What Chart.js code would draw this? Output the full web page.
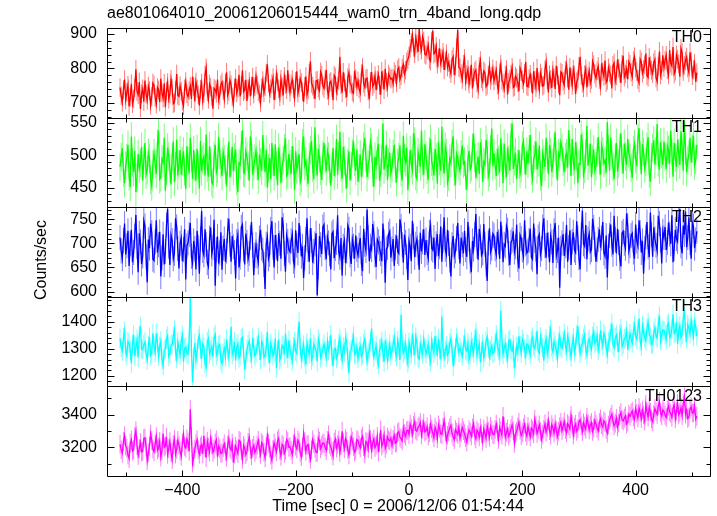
<!DOCTYPE html>
<html>
<head>
<meta charset="utf-8">
<script src="https://cdn.jsdelivr.net/npm/chart.js@4.4.0/dist/chart.umd.min.js"></script>
<style>
html, body { margin: 0; padding: 0; background: #fff; }
</style>
</head>
<body>
<canvas id="lc" width="717" height="516"></canvas>
<script>
const title = 'ae801064010_20061206015444_wam0_trn_4band_long.qdp';
const xLabel = 'Time [sec] 0 = 2006/12/06 01:54:44';
const yLabel = 'Counts/sec';
const bandNames = ['TH0', 'TH1', 'TH2', 'TH3', 'TH0123'];
const bandColors = ['#ff0000', '#00ff00', '#0000ff', '#00ffff', '#ff00ff'];
const errColors = ['#ff7a7a', '#7aff7a', '#7a7aff', '#7affff', '#ff7aff'];

// time bins: t = tStart + i * tStep  (one row = 60 s)
const tStart = -510;
const tStep = 2;

// typical 1-sigma error of a bin, per band (counts/sec)
const bandErr = [27, 22, 26, 36, 57];

const th0 = [
  745,721,702,739,768,709,731,752,690,717,756,698,712,744,798,733,724,761,683,727,741,704,765,726,708,749,736,693,719,758,
  752,716,697,745,738,703,771,729,714,757,688,735,759,711,726,769,743,698,701,737,784,722,719,750,734,705,692,741,762,727,
  718,736,749,712,776,747,705,761,741,724,693,740,758,707,727,781,802,732,711,755,746,719,684,743,739,728,768,709,722,753,
  761,737,712,758,789,723,734,766,753,718,698,744,771,729,742,782,719,751,795,733,738,767,706,741,762,720,749,775,726,747,
  778,752,733,726,701,744,765,730,748,787,812,758,727,742,756,773,709,735,783,761,741,718,769,746,722,777,754,739,795,757,
  731,755,768,740,716,763,792,729,744,771,759,733,703,748,777,724,738,786,821,757,749,739,712,764,766,743,735,790,781,750,
  742,768,796,737,721,759,763,745,708,780,775,734,749,766,834,753,730,789,761,741,717,774,788,756,752,732,728,793,771,747,
  764,741,729,785,803,757,746,770,772,735,711,762,790,748,755,779,737,766,782,751,724,792,768,739,799,760,745,784,776,769,
  772,756,791,783,758,797,803,768,779,801,812,784,795,819,826,837,858,874,897,861,842,889,871,848,916,867,853,892,879,841,
  838,853,867,826,821,879,909,842,845,864,812,831,858,815,829,847,796,822,843,804,817,798,785,826,834,781,806,859,912,803,
  801,785,768,812,829,763,782,797,755,779,811,742,774,790,796,758,739,806,823,770,761,793,788,747,752,781,807,766,778,799,
  764,779,795,752,737,788,812,766,758,741,781,797,725,760,769,784,803,745,748,778,772,759,734,801,791,767,756,785,819,749,
  747,771,783,758,728,792,766,745,801,763,739,787,775,749,752,796,818,767,731,782,768,744,795,773,741,808,779,754,723,790,
  786,763,752,795,811,772,739,803,774,751,798,781,726,762,769,806,834,779,757,744,782,799,745,776,793,757,768,821,811,784,
  772,794,806,768,749,815,791,777,823,759,765,802,788,781,742,809,816,763,779,826,801,787,758,812,837,775,784,798,769,820,
  812,789,776,823,834,801,791,768,758,827,819,786,797,811,843,779,774,832,808,795,785,817,826,773,762,806,849,781,794,838,
  803,824,838,796,781,853,815,807,862,784,792,839,827,813,776,858,846,791,809,822,833,801,788,847,821,779,797,815,762,788
];

const th1 = [
  482,497,511,473,457,484,496,516,468,451,529,489,474,507,443,466,502,479,488,513,461,492,519,470,477,504,495,462,452,486,
  503,487,471,518,538,463,466,494,489,527,445,476,512,498,480,455,497,521,459,483,524,469,486,508,470,491,506,475,448,514,
  491,472,527,496,463,508,482,461,510,485,449,522,475,493,498,469,532,481,467,514,489,458,455,499,516,473,479,528,501,487,
  468,505,494,478,452,491,521,466,487,513,476,497,509,460,443,488,485,515,539,474,472,506,498,484,461,529,517,470,483,495,
  507,483,462,501,489,476,531,499,474,509,450,480,496,463,519,490,468,517,484,454,512,495,457,482,493,511,526,468,471,502,
  486,471,514,492,447,506,478,487,502,459,465,518,529,484,490,473,456,497,508,522,481,463,543,489,469,510,495,476,462,500,
  519,494,475,507,498,479,453,482,511,468,487,525,470,499,536,481,464,513,492,470,449,488,506,461,483,503,522,490,476,509,
  459,480,501,467,488,514,527,496,466,485,494,521,512,474,451,498,485,507,518,461,473,493,549,478,490,516,462,489,504,472,
  481,502,516,479,458,488,497,515,474,461,530,496,489,512,446,475,508,487,477,534,521,468,463,505,495,482,538,491,470,517,
  499,478,462,506,525,490,483,469,510,497,456,521,491,476,544,489,472,513,503,458,467,495,488,517,529,474,454,502,496,484,
  476,501,515,487,490,468,447,494,507,478,482,512,533,496,465,485,498,471,520,503,459,490,486,524,511,467,473,509,541,483,
  503,485,468,510,492,473,526,497,457,518,484,466,512,493,476,528,549,479,491,504,463,487,508,471,480,515,522,492,470,506,
  487,509,531,476,464,494,500,521,478,489,515,468,452,503,493,482,527,498,471,516,505,474,488,511,536,486,461,503,497,520,
  512,490,474,497,503,481,539,508,468,525,491,477,520,499,457,487,486,532,514,470,479,502,545,484,495,518,466,493,509,476,
  483,504,528,491,470,515,506,488,492,473,551,509,476,527,500,482,463,496,519,475,487,511,534,493,472,518,498,485,525,502,
  496,481,465,508,517,494,483,526,542,499,471,517,505,480,490,513,528,472,459,497,511,523,486,506,548,489,478,520,502,485,
  521,498,479,515,508,487,538,505,467,519,496,482,524,503,485,537,512,476,553,508,474,492,501,527,489,510,530,484,493,516
];

const th2 = [
  712,684,668,706,741,677,695,726,653,699,728,661,681,715,759,693,640,721,703,657,674,747,736,672,619,708,690,741,722,667,
  664,703,748,681,697,724,631,670,719,656,683,738,772,694,655,717,706,668,679,752,734,689,648,700,711,663,687,729,625,695,
  701,718,742,673,659,705,689,646,726,692,637,709,767,685,676,729,698,660,652,711,733,678,691,749,612,687,714,658,680,723,
  645,690,709,662,684,727,751,698,662,715,693,681,627,704,718,650,671,733,739,688,656,720,702,667,679,712,744,696,634,675,
  697,674,661,711,728,690,685,656,605,698,713,668,677,729,746,692,650,717,692,663,721,700,668,754,737,679,641,716,704,686,
  682,705,719,663,654,727,696,680,742,711,673,694,628,670,708,752,687,662,731,706,660,683,699,721,592,651,715,697,678,734,
  739,691,667,713,701,678,646,720,724,669,689,702,758,682,671,711,633,694,706,659,684,737,729,676,657,708,694,668,716,687,
  675,696,711,658,642,730,698,685,770,712,663,694,687,740,720,676,651,708,703,689,679,663,741,703,618,688,692,719,725,670,
  688,709,653,692,716,683,679,750,735,697,660,718,702,672,624,705,694,663,747,715,671,698,709,681,645,722,683,703,729,676,
  707,681,669,723,738,690,686,712,647,699,719,673,693,735,662,706,754,688,677,728,700,665,631,697,715,674,684,710,742,693,
  658,712,697,679,726,687,672,744,709,663,640,705,688,718,761,694,666,730,713,675,680,740,698,657,622,701,731,682,690,720,
  716,689,676,724,703,668,745,711,661,698,694,736,727,679,655,702,707,725,682,693,739,667,648,717,710,686,673,748,699,680,
  684,706,730,671,667,741,706,688,636,713,719,677,689,734,752,695,670,722,697,661,715,703,659,726,742,674,685,712,608,690,
  701,719,674,695,738,662,692,727,655,704,723,686,681,746,711,670,646,717,768,699,694,738,667,709,720,682,687,751,733,698,
  662,687,708,729,691,711,744,680,673,716,629,694,716,739,698,677,757,708,679,730,702,669,652,721,725,700,690,762,737,684,
  695,716,721,682,668,739,705,694,748,722,681,705,637,689,713,744,693,671,764,718,672,733,709,696,684,757,741,707,658,725,
  712,734,686,702,743,719,699,758,661,689,728,710,704,748,771,695,679,737,718,766,692,712,754,701,668,743,736,690,707,725
];

const th3 = [
  1338,1305,1292,1341,1364,1289,1275,1327,1319,1296,1247,1318,1351,1273,1306,1334,1268,1352,1382,1299,1297,1316,1325,1281,1259,1311,1343,1276,1284,1357,
  1311,1287,1356,1322,1273,1309,1329,1261,1238,1294,1301,1336,1347,1271,1282,1313,1316,1345,1369,1290,1264,1324,1298,1277,1331,1349,1252,1302,1306,1283,
  1279,1331,1488,1302,1176,1268,1322,1259,1286,1335,1349,1297,1263,1318,1307,1244,1231,1326,1338,1281,1294,1309,1271,1342,1353,1276,1289,1312,1316,1258,
  1245,1283,1302,1271,1334,1296,1268,1314,1381,1278,1291,1325,1257,1304,1318,1266,1276,1337,1342,1289,1223,1261,1297,1316,1329,1282,1263,1340,1305,1274,
  1284,1312,1341,1293,1259,1327,1316,1268,1275,1305,1363,1282,1248,1319,1302,1274,1287,1338,1228,1296,1334,1259,1271,1313,1309,1280,1356,1298,1266,1331,
  1298,1276,1255,1308,1327,1291,1283,1344,1401,1303,1262,1287,1314,1269,1241,1322,1296,1281,1339,1258,1273,1317,1305,1294,1252,1336,1321,1267,1279,1301,
  1317,1292,1268,1326,1294,1311,1352,1273,1236,1298,1301,1265,1277,1319,1338,1290,1259,1307,1288,1341,1325,1266,1211,1289,1296,1323,1347,1278,1283,1308,
  1264,1290,1309,1272,1281,1320,1336,1297,1253,1284,1298,1327,1375,1306,1270,1293,1312,1261,1242,1299,1305,1328,1286,1251,1331,1302,1258,1288,1317,1274,
  1293,1315,1342,1287,1271,1330,1308,1259,1426,1313,1284,1296,1319,1275,1247,1324,1301,1282,1356,1309,1276,1343,1322,1268,1262,1317,1298,1280,1335,1304,
  1281,1299,1317,1270,1252,1328,1303,1284,1347,1312,1274,1337,1296,1261,1419,1306,1268,1293,1311,1278,1289,1321,1338,1297,1235,1274,1305,1342,1322,1286,
  1306,1288,1273,1314,1339,1297,1292,1321,1258,1279,1326,1303,1284,1335,1361,1276,1299,1318,1249,1291,1318,1268,1287,1329,1344,1302,1271,1294,1310,1283,
  1288,1321,1352,1307,1296,1274,1441,1336,1279,1302,1318,1286,1263,1329,1334,1297,1292,1315,1227,1270,1309,1288,1346,1311,1285,1335,1321,1299,1274,1318,
  1315,1296,1278,1331,1343,1309,1301,1325,1366,1292,1284,1344,1320,1303,1256,1317,1337,1282,1298,1349,1372,1306,1289,1327,1312,1295,1264,1321,1348,1308,
  1302,1328,1357,1314,1291,1347,1326,1295,1269,1318,1341,1287,1308,1352,1384,1322,1283,1309,1319,1338,1353,1296,1277,1324,1336,1311,1298,1346,1362,1320,
  1327,1349,1295,1318,1368,1331,1312,1357,1346,1302,1279,1326,1335,1361,1392,1315,1304,1340,1351,1322,1288,1356,1374,1309,1318,1337,1343,1365,1297,1328,
  1356,1337,1321,1365,1387,1348,1336,1372,1412,1329,1308,1385,1362,1341,1329,1376,1398,1353,1344,1319,1316,1361,1377,1347,1339,1394,1421,1330,1352,1369,
  1368,1351,1333,1387,1395,1342,1349,1374,1427,1356,1361,1398,1318,1366,1384,1341,1352,1412,1443,1360,1337,1389,1376,1355,1405,1372,1346,1399,1381,1347
];

const th0123 = [
  3218,3186,3164,3237,3271,3209,3195,3153,3132,3224,3246,3178,3187,3265,3302,3211,3151,3192,3229,3172,3176,3254,3258,3203,3119,3166,3207,3281,3243,3190,
  3173,3221,3266,3184,3198,3236,3141,3179,3284,3201,3209,3262,3157,3193,3235,3168,3126,3217,3251,3159,3188,3242,3214,3177,3145,3228,3279,3206,3196,3252,
  3232,3176,3432,3268,3104,3142,3189,3223,3247,3185,3158,3204,3216,3162,3271,3197,3137,3238,3201,3172,3254,3215,3169,3188,3226,3246,3143,3207,3193,3163,
  3167,3198,3221,3175,3139,3214,3252,3196,3183,3227,3108,3160,3206,3185,3162,3243,3238,3179,3127,3212,3195,3156,3174,3231,3263,3187,3149,3194,3212,3169,
  3186,3214,3243,3192,3158,3229,3217,3171,3136,3205,3271,3226,3194,3152,3121,3188,3228,3199,3173,3241,3256,3183,3145,3219,3209,3163,3182,3248,3237,3201,
  3203,3182,3156,3221,3262,3208,3191,3244,3229,3167,3143,3199,3284,3236,3176,3213,3218,3164,3127,3186,3247,3222,3195,3170,3168,3258,3239,3192,3211,3227,
  3224,3201,3181,3242,3276,3219,3203,3178,3148,3232,3251,3196,3217,3245,3169,3211,3298,3227,3192,3254,3236,3187,3154,3213,3264,3239,3205,3171,3183,3248,
  3241,3215,3197,3253,3268,3204,3159,3236,3229,3191,3283,3247,3186,3228,3252,3199,3214,3266,3171,3231,3306,3208,3225,3274,3193,3219,3262,3245,3238,3257,
  3212,3248,3274,3226,3231,3289,3296,3262,3253,3239,3318,3284,3267,3301,3305,3279,3342,3317,3281,3334,3356,3305,3298,3322,3331,3352,3276,3311,3349,3294,
  3302,3326,3268,3289,3341,3312,3287,3258,3323,3301,3254,3337,3316,3283,3279,3322,3362,3295,3241,3274,3297,3319,3334,3286,3263,3247,3308,3293,3279,3324,
  3256,3289,3321,3302,3284,3259,3232,3276,3307,3291,3269,3318,3345,3273,3251,3306,3292,3264,3318,3283,3237,3312,3286,3255,3331,3297,3262,3327,3304,3280,
  3277,3308,3342,3294,3248,3322,3301,3275,3389,3327,3263,3291,3312,3268,3286,3314,3337,3302,3225,3283,3298,3326,3354,3305,3271,3290,3319,3341,3292,3268,
  3328,3295,3264,3317,3306,3283,3371,3335,3284,3309,3337,3296,3249,3281,3311,3344,3293,3321,3362,3302,3276,3339,3318,3287,3342,3305,3269,3298,3327,3353,
  3301,3327,3356,3309,3288,3345,3332,3312,3394,3341,3275,3322,3341,3298,3313,3357,3368,3331,3296,3349,3329,3310,3382,3346,3307,3336,3351,3297,3318,3364,
  3342,3318,3299,3352,3373,3338,3324,3361,3351,3309,3287,3336,3366,3384,3402,3359,3331,3347,3377,3324,3348,3392,3412,3369,3361,3378,3391,3342,3355,3402,
  3389,3408,3421,3385,3368,3436,3407,3379,3442,3412,3376,3427,3398,3361,3462,3417,3384,3445,3415,3372,3357,3398,3436,3419,3401,3453,3479,3411,3392,3428,
  3418,3395,3382,3428,3451,3417,3406,3383,3437,3459,3374,3421,3466,3398,3412,3441,3393,3466,3508,3403,3429,3376,3385,3432,3447,3409,3411,3452,3372,3390
];

const series = [th0, th1, th2, th3, th0123];

// axis ranges per panel (top to bottom)
const yMin = [658, 420, 589, 1161, 3026];
const yMax = [917, 558, 775, 1492, 3571];
const yMajor = [100, 50, 50, 100, 200];
const yMinor = [20, 10, 10, 20, 100];

const FONT = "'Liberation Sans', Arial, sans-serif";
Chart.defaults.font.family = FONT;
Chart.defaults.font.size = 16;
Chart.defaults.color = '#000';

const fmtX = v => v < 0 ? '\u2212' + Math.abs(v) : String(v);

const scales = {
    x: {
        type: 'linear',
        min: -533,
        max: 533,
        grid: { display: false, drawTicks: false },
        border: { display: false },
        ticks: { stepSize: 200, includeBounds: false, padding: 5, maxRotation: 0, callback: fmtX },
        afterFit: s => { s.height = 40; }
    }
};

// stacked axes are laid out bottom-up, so add the bottom panel first
for (let i = bandNames.length - 1; i >= 0; i--) {
    scales['y' + i] = {
        type: 'linear',
        position: 'left',
        stack: 'panels',
        stackWeight: 1,
        min: yMin[i],
        max: yMax[i],
        grid: { display: false, drawTicks: false },
        border: { display: false },
        ticks: { stepSize: yMajor[i], includeBounds: false, padding: 10, autoSkip: false, callback: v => String(v) },
        afterFit: s => { s.width = 107; }
    };
}

// half length of an error bar in pixels, taken from the panel's own scale
const errPixels = i => ctx => {
    const s = ctx.chart.scales['y' + i];
    return Math.abs(s.getPixelForValue(yMin[i] + bandErr[i]) - s.getPixelForValue(yMin[i]));
};

const datasets = [];
series.forEach((vals, i) => {
    const pts = vals.map((v, k) => ({ x: tStart + k * tStep, y: v }));
    // error bars: a vertical tick at every bin
    datasets.push({
        label: bandNames[i] + ' err',
        yAxisID: 'y' + i,
        data: pts,
        showLine: false,
        pointStyle: 'line',
        pointRotation: 90,
        pointRadius: errPixels(i),
        pointBorderColor: errColors[i],
        pointBorderWidth: 1,
        order: 2
    });
    datasets.push({
        label: bandNames[i],
        yAxisID: 'y' + i,
        data: pts,
        borderColor: bandColors[i],
        borderWidth: 1.3,
        pointRadius: 0,
        tension: 0,
        order: 1
    });
});

const panelPlugin = {
    id: 'panels',
    beforeDatasetDraw(chart, args) {
        const ys = args.meta.yScale, a = chart.chartArea, ctx = chart.ctx;
        ctx.save();
        ctx.beginPath();
        ctx.rect(a.left, ys.top, a.right - a.left, ys.bottom - ys.top);
        ctx.clip();
    },
    afterDatasetDraw(chart) {
        chart.ctx.restore();
    },
    afterDraw(chart) {
        const ctx = chart.ctx, a = chart.chartArea, xs = chart.scales.x;
        const L = Math.round(a.left) + 0.5, R = Math.round(a.right) - 0.5;
        ctx.save();
        ctx.strokeStyle = '#000';
        ctx.lineWidth = 1;
        ctx.fillStyle = '#000';
        bandNames.forEach((name, i) => {
            const ys = chart.scales['y' + i];
            const T = Math.round(ys.top) + 0.5, B = Math.round(ys.bottom) + 0.5;
            ctx.beginPath();
            ctx.rect(L, T, R - L, B - T);
            // x ticks, inward on top and bottom
            for (let v = -500; v <= 500; v += 100) {
                const px = Math.round(xs.getPixelForValue(v)) + 0.5;
                const len = v % 200 === 0 ? 6 : 4;
                ctx.moveTo(px, T); ctx.lineTo(px, T + len);
                ctx.moveTo(px, B); ctx.lineTo(px, B - len);
            }
            // y ticks, inward on left and right
            for (let v = Math.ceil(yMin[i] / yMinor[i]) * yMinor[i]; v <= yMax[i]; v += yMinor[i]) {
                const py = Math.round(ys.getPixelForValue(v)) + 0.5;
                const len = v % yMajor[i] === 0 ? 7 : 4;
                ctx.moveTo(L, py); ctx.lineTo(L + len, py);
                ctx.moveTo(R, py); ctx.lineTo(R - len, py);
            }
            ctx.stroke();

            ctx.font = '16px ' + FONT;
            ctx.textAlign = 'right';
            ctx.textBaseline = 'middle';
            ctx.fillText(name, a.right - 9, ys.top + 10);
        });

        ctx.font = '16px ' + FONT;
        ctx.textAlign = 'left';
        ctx.textBaseline = 'middle';
        ctx.fillText(title, a.left, 14);

        ctx.textAlign = 'center';
        ctx.fillText(xLabel, 398, 507);

        ctx.translate(42, 260);
        ctx.rotate(-Math.PI / 2);
        ctx.fillText(yLabel, 0, 0);
        ctx.restore();
    }
};

new Chart(document.getElementById('lc'), {
    type: 'line',
    data: { datasets: datasets },
    options: {
        responsive: false,
        animation: false,
        layout: { padding: { left: 0, right: 6, top: 28, bottom: 0 } },
        plugins: { legend: { display: false }, title: { display: false }, tooltip: { enabled: false } },
        scales: scales
    },
    plugins: [panelPlugin]
});
</script>
</body>
</html>
